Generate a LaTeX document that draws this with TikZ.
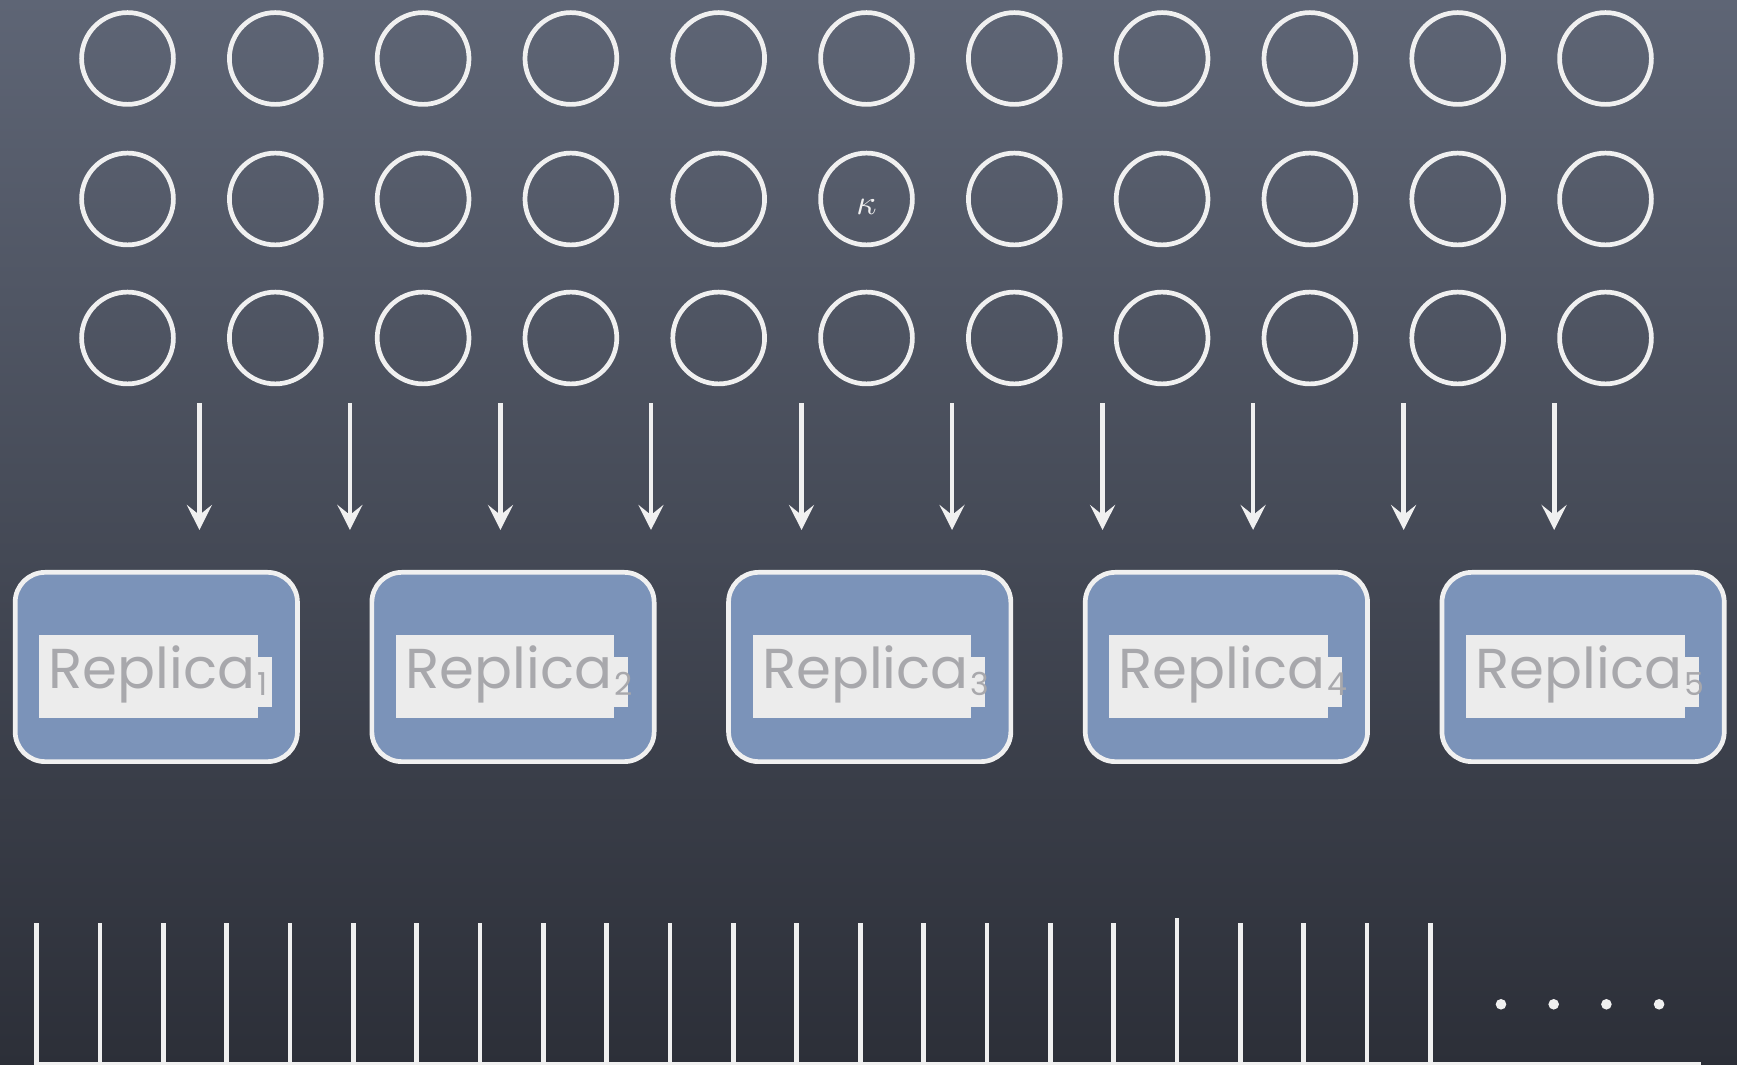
\documentclass[tikz,border=0pt]{standalone}
\usepackage{fontspec}
\newfontfamily\chalkfont{Poppins}
\usetikzlibrary{arrows.meta}

\definecolor{boardtop}{RGB}{94,101,117}
\definecolor{boardmid}{RGB}{70,76,90}
\definecolor{boardbot}{RGB}{44,47,56}
\definecolor{chalk}{RGB}{240,240,240}
\definecolor{replicablue}{RGB}{123,147,185}
\definecolor{labelgray}{RGB}{236,236,236}
\definecolor{lettergray}{RGB}{168,168,172}

\newcommand{\replicaname}[1]{Replica\hspace{0.02cm}\raisebox{-0.07cm}{\fontsize{9}{10}\selectfont #1}}

\begin{document}
\begin{tikzpicture}[>={Stealth[length=0.25cm, width=0.25cm, inset=0.1cm]}, line width=0.047cm,
	cell/.style={circle, draw=chalk, minimum size=0.918cm, inner sep=0pt},
	replica/.style={draw=chalk, fill=replicablue, rounded corners=0.3cm, minimum width=2.823cm, minimum height=1.893cm, inner sep=0pt},
	replicatext/.style={anchor=base west, inner sep=0pt, text=lettergray, font=\chalkfont\fontsize{16}{18}\selectfont}]
				
				% --- Tafel ---
				\useasboundingbox (0,0) rectangle (17.37,10.65);
				\shade[top color=boardtop, middle color=boardmid, bottom color=boardbot] (0,0) rectangle (17.37,10.65);
				
				% --- Zellen (3 Reihen, 11 Spalten) ---
				\foreach \r/\y in {1/10.065, 2/8.66, 3/7.27}{
					\foreach \c in {1,...,11}{
						\node[cell] (c-\r-\c) at ({1.275+1.478*(\c-1)},\y) {};
					}
				}
				\node[text=chalk, inner sep=0pt] (kappa) at ([yshift=-0.08cm]c-2-6.center) {$\kappa$};
				
				% --- Pfeile ---
				\foreach \j in {1,...,10}{
					\coordinate (a\j) at ({1.994+1.5053*(\j-1)},6.617);
					\coordinate (b\j) at ({1.994+1.5053*(\j-1)},5.35);
					\draw[->, chalk] (a\j) -- (b\j);
				}
				
				% --- Replicas ---
				\foreach \k in {1,...,5}{
					\node[replica] (r\k) at ({1.563+3.567*(\k-1)},3.98) {};
					\fill[labelgray] ([shift={(-1.17,-0.513)}]r\k.center) rectangle ([shift={(1.014,0.32)}]r\k.center);
					\fill[labelgray] ([shift={(1.014,-0.403)}]r\k.center) rectangle ([shift={(1.154,0.10)}]r\k.center);
					\node[replicatext] (t\k) at ([shift={(-1.10,-0.213)}]r\k.center) {\replicaname{\k}};
				}
				
				% --- Striche unten ---
				\foreach \m in {0,...,22}{
					\coordinate (s\m) at ({0.366+0.6335*\m},0);
					\ifnum\m=18
						\coordinate (u\m) at ({0.366+0.6335*\m},1.467);
					\else
						\coordinate (u\m) at ({0.366+0.6335*\m},1.417);
					\fi
					\draw[chalk] (s\m) -- (u\m);
				}
				\coordinate (base0) at (0.344,0.005);
				\coordinate (base1) at (17.007,0.005);
				\draw[chalk] (base0) -- (base1);
				
				% --- Punkte ---
				\foreach \d in {0,...,3}{
					\fill[chalk] ({15.01+0.527*\d},0.607) circle (0.053);
				}
				
			\end{tikzpicture}
\end{document}
